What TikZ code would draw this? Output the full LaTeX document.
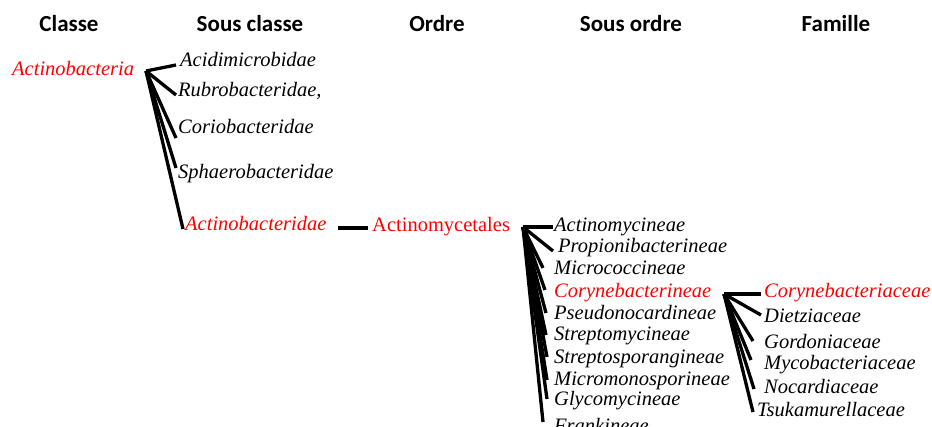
\documentclass[tikz,border=0pt]{standalone}
\usepackage{fontspec}
\setmainfont{Liberation Serif}
\newfontfamily\hdrfont{Carlito}
\begin{document}
\begin{tikzpicture}[x=1pt,y=-1pt,
  hdr/.style={font=\hdrfont\bfseries\fontsize{23}{23}\selectfont, anchor=base, inner sep=0pt},
  taxon/.style={font=\itshape\fontsize{20.5}{21}\selectfont, anchor=base west, inner sep=0pt},
  hot/.style={text=red},
  link/.style={line width=3.3pt}]
\useasboundingbox (0,0) rectangle (932,427);
% headers
\node[hdr] (hclasse) at (69,32) {Classe};
\node[hdr] (hsous) at (250,32) {Sous classe};
\node[hdr] (hordre) at (437,32) {Ordre};
\node[hdr] (hsousordre) at (631,32) {Sous ordre};
\node[hdr] (hfam) at (836,32) {Famille};
% level 1
\node[taxon,hot] (actino) at (12,76) {Actinobacteria};
% sous classes
\node[taxon] (acid) at (180,67) {Acidimicrobidae};
\node[taxon] (rubro) at (178,97) {Rubrobacteridae,};
\node[taxon] (corio) at (178,134) {Coriobacteridae};
\node[taxon] (sphaero) at (178,179) {Sphaerobacteridae};
\node[taxon,hot] (actinob) at (185,231) {Actinobacteridae};
% ordre
\node[taxon,hot,font=\upshape\fontsize{20.5}{21}\selectfont] (actinom) at (372,232) {Actinomycetales};
% sous ordres
\node[taxon] (so1) at (554,232) {Actinomycineae};
\node[taxon] (so2) at (558,253) {Propionibacterineae};
\node[taxon] (so3) at (554,275) {Micrococcineae};
\node[taxon,hot] (so4) at (554,298) {Corynebacterineae};
\node[taxon] (so5) at (554,320) {Pseudonocardineae};
\node[taxon] (so6) at (554,341) {Streptomycineae};
\node[taxon] (so7) at (554,364) {Streptosporangineae};
\node[taxon] (so8) at (554,386) {Micromonosporineae};
\node[taxon] (so9) at (554,406) {Glycomycineae};
\node[taxon] (so10) at (554,432) {Frankineae};
% familles
\node[taxon,hot] (f1) at (764,298) {Corynebacteriaceae};
\node[taxon] (f2) at (764,323) {Dietziaceae};
\node[taxon] (f3) at (764,349) {Gordoniaceae};
\node[taxon] (f4) at (764,370) {Mycobacteriaceae};
\node[taxon] (f5) at (764,394) {Nocardiaceae};
\node[taxon] (f6) at (757,417) {Tsukamurellaceae};
% hubs and ends
\coordinate (h1) at (146,71);
\coordinate (e-acid) at (176,65);
\coordinate (e-rubro) at (176,95);
\coordinate (e-corio) at (176,138);
\coordinate (e-sphaero) at (176,168);
\coordinate (e-actinob) at (183,229);
\draw[link] (h1) -- (e-acid);
\draw[link] (h1) -- (e-rubro);
\draw[link] (h1) -- (e-corio);
\draw[link] (h1) -- (e-sphaero);
\draw[link] (h1) -- (e-actinob);
\coordinate (m1) at (338,228);
\coordinate (m2) at (368,228);
\draw[link] (m1) -- (m2);
\coordinate (h2) at (523,227);
\coordinate (e-so1) at (553,227);
\coordinate (e-so2) at (553,251);
\coordinate (e-so3) at (543,268);
\coordinate (e-so4) at (545,290);
\coordinate (e-so5) at (546,313);
\coordinate (e-so6) at (546,335);
\coordinate (e-so7) at (547,357);
\coordinate (e-so8) at (547,380);
\coordinate (e-so9) at (547,399);
\coordinate (e-so10) at (543,422);
\foreach \e in {so1,so2,so3,so4,so5,so6,so7,so8,so9,so10}
  \draw[link] (h2) -- (e-\e);
\coordinate (h3) at (724,294);
\coordinate (e-f1) at (761,294);
\coordinate (e-f2) at (761,315);
\coordinate (e-f3) at (753,341);
\coordinate (e-f4) at (751,360);
\coordinate (e-f5) at (754,389);
\coordinate (e-f6) at (753,412);
\foreach \e in {f1,f2,f3,f4,f5,f6}
  \draw[link] (h3) -- (e-\e);
\end{tikzpicture}
\end{document}
